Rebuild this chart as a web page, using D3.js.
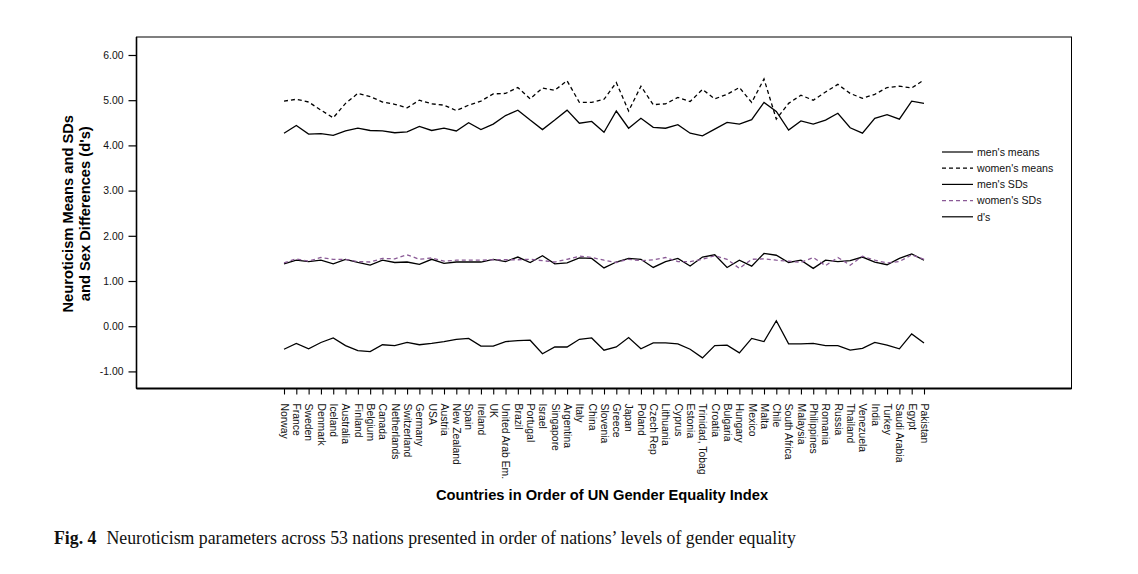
<!DOCTYPE html>
<html>
<head>
<meta charset="utf-8">
<script src="https://cdn.jsdelivr.net/npm/d3@7"></script>
<style>
  body { margin: 0; background: #fff; }
  svg { display: block; }
</style>
</head>
<body>
<svg id="chart" width="1138" height="574"></svg>
<script>
// --- DATA --------------------------------------------------------------------
const countries = ['Norway','France','Sweden','Denmark','Iceland','Australia','Finland','Belgium',
  'Canada','Netherlands','Switzerland','Germany','USA','Austria','New Zealand','Spain','Ireland','UK',
  'United Arab Em.','Brazil','Portugal','Israel','Singapore','Argentina','Italy','China','Slovenia',
  'Greece','Japan','Poland','Czech Rep','Lithuania','Cyprus','Estonia','Trinidad, Tobag','Croatia',
  'Bulgaria','Hungary','Mexico','Malta','Chile','South Africa','Malaysia','Philippines','Romania',
  'Russia','Thailand','Venezuela','India','Turkey','Saudi Arabia','Egypt','Pakistan'];

const mensMeans = [4.27,4.44,4.25,4.26,4.22,4.32,4.38,4.33,4.32,4.28,4.30,4.42,4.33,4.38,4.32,4.50,
  4.35,4.47,4.66,4.78,4.56,4.35,4.56,4.78,4.49,4.53,4.29,4.76,4.38,4.60,4.40,4.38,4.46,4.27,4.21,
  4.36,4.51,4.47,4.57,4.95,4.75,4.34,4.54,4.47,4.56,4.71,4.39,4.27,4.60,4.68,4.58,4.98,4.93];

const womensMeans = [4.98,5.02,4.96,4.78,4.61,4.93,5.15,5.08,4.96,4.91,4.83,5.00,4.92,4.89,4.77,4.89,
  4.98,5.14,5.15,5.28,5.03,5.27,5.22,5.43,4.95,4.95,5.02,5.39,4.76,5.31,4.90,4.92,5.06,4.97,5.24,
  5.03,5.13,5.28,4.95,5.47,4.58,4.93,5.11,5.00,5.18,5.35,5.15,5.04,5.13,5.28,5.31,5.27,5.45];

const mensSDs = [1.38,1.46,1.43,1.46,1.38,1.48,1.41,1.35,1.46,1.41,1.42,1.37,1.48,1.39,1.42,1.42,
  1.42,1.48,1.43,1.53,1.41,1.56,1.38,1.40,1.51,1.50,1.29,1.42,1.50,1.48,1.30,1.43,1.50,1.33,1.53,
  1.58,1.30,1.46,1.33,1.61,1.57,1.41,1.46,1.28,1.46,1.43,1.45,1.53,1.42,1.36,1.50,1.60,1.46];

const womensSDs = [1.40,1.49,1.44,1.52,1.48,1.48,1.43,1.42,1.50,1.49,1.58,1.48,1.51,1.44,1.46,1.46,
  1.46,1.47,1.47,1.47,1.48,1.45,1.42,1.48,1.55,1.52,1.46,1.41,1.48,1.45,1.47,1.52,1.43,1.43,1.48,
  1.56,1.48,1.28,1.48,1.49,1.46,1.44,1.41,1.52,1.34,1.52,1.35,1.55,1.46,1.40,1.43,1.58,1.48];

const dValues = [-0.51,-0.38,-0.50,-0.36,-0.26,-0.43,-0.54,-0.56,-0.41,-0.43,-0.36,-0.41,-0.38,-0.34,
  -0.29,-0.27,-0.44,-0.44,-0.34,-0.32,-0.31,-0.61,-0.46,-0.46,-0.29,-0.26,-0.53,-0.46,-0.25,-0.50,
  -0.37,-0.37,-0.39,-0.51,-0.70,-0.43,-0.42,-0.59,-0.27,-0.34,0.12,-0.39,-0.39,-0.38,-0.43,-0.43,
  -0.53,-0.49,-0.36,-0.42,-0.50,-0.17,-0.37];

const yTicks = [-1, 0, 1, 2, 3, 4, 5, 6];

const seriesNames = ["men's means", "women's means", "men's SDs", "women's SDs", "d's"];

// --- CONSTANTS ---------------------------------------------------------------
const LEFT = 136.5, RIGHT = 1071.5, TOP = 37, BOTTOM = 388.5;
const X_FIRST = 284, X_LAST = 924;
const Y_MIN = -1.378, Y_MAX = 6.398;
const FONT = 'Arial, "Liberation Sans", Helvetica, sans-serif';
const SERIF = '"Times New Roman", "Liberation Serif", serif';
const PURPLE = '#8a5a96';

const STYLE = [
  { values: mensMeans,   color: '#000', dash: null },
  { values: womensMeans, color: '#000', dash: '4,3' },
  { values: mensSDs,     color: '#000', dash: null },
  { values: womensSDs,   color: PURPLE, dash: '4,3' },
  { values: dValues,     color: '#000', dash: null },
];

// --- SCALES ------------------------------------------------------------------
const svg = d3.select('#chart');
const x = d3.scalePoint().domain(countries).range([X_FIRST, X_LAST]);
const y = d3.scaleLinear().domain([Y_MIN, Y_MAX]).range([BOTTOM, TOP]);

// frame
svg.append('rect')
  .attr('x', LEFT).attr('y', TOP)
  .attr('width', RIGHT - LEFT).attr('height', BOTTOM - TOP)
  .attr('fill', 'none').attr('stroke', '#000').attr('stroke-width', 1);

// ── Y axis ──────────────────────────────────────────────────────────────────
const yAxis = svg.append('g')
  .attr('transform', `translate(${LEFT},0)`)
  .call(d3.axisLeft(y).tickValues(yTicks).tickSize(8).tickPadding(5)
    .tickFormat(d => d.toFixed(2)));
yAxis.select('.domain').attr('stroke-width', 1.6).attr('d', `M0,${TOP}V${BOTTOM}`);
yAxis.selectAll('.tick line').attr('stroke-width', 1.2);
yAxis.selectAll('text').attr('font-family', FONT).attr('font-size', '10.4px').attr('fill', '#111');

// ── X axis ──────────────────────────────────────────────────────────────────
const xAxis = svg.append('g')
  .attr('transform', `translate(0,${BOTTOM})`)
  .call(d3.axisBottom(x).tickSize(6).tickSizeOuter(0));
xAxis.select('.domain').attr('stroke-width', 1.8).attr('d', `M${LEFT},0H${RIGHT}`);
xAxis.selectAll('.tick line').attr('stroke-width', 1.1);
xAxis.selectAll('text')
  .attr('font-family', FONT).attr('font-size', '10.4px').attr('fill', '#111')
  .attr('text-anchor', 'start')
  .attr('transform', 'rotate(90)')
  .attr('x', 15).attr('y', 0).attr('dy', '0.35em');

// ── Lines ───────────────────────────────────────────────────────────────────
const line = d3.line().x((d, i) => x(countries[i])).y(d => y(d));

svg.append('g').selectAll('path')
  .data(STYLE)
  .join('path')
  .attr('d', s => line(s.values))
  .attr('fill', 'none')
  .attr('stroke', s => s.color)
  .attr('stroke-width', 1.3)
  .attr('stroke-dasharray', s => s.dash);

// ── Legend ──────────────────────────────────────────────────────────────────
const LEG_X = 942, LEG_Y = 152, LEG_STEP = 16.2;
const leg = svg.append('g').selectAll('g')
  .data(STYLE.map((s, i) => ({ ...s, name: seriesNames[i] })))
  .join('g')
  .attr('transform', (d, i) => `translate(${LEG_X},${LEG_Y + i * LEG_STEP})`);
leg.append('line')
  .attr('x1', 0).attr('x2', 31).attr('y1', 0).attr('y2', 0)
  .attr('stroke', d => d.color).attr('stroke-width', 1.2)
  .attr('stroke-dasharray', d => d.dash);
leg.append('text')
  .attr('x', 35).attr('dy', '0.35em')
  .attr('font-family', FONT).attr('font-size', '10.6px').attr('fill', '#111')
  .text(d => d.name);

// ── Axis titles ─────────────────────────────────────────────────────────────
svg.append('text')
  .attr('x', (X_FIRST + X_LAST) / 2 - 2).attr('y', 500)
  .attr('text-anchor', 'middle')
  .attr('font-family', FONT).attr('font-weight', 'bold').attr('font-size', '14.7px')
  .text('Countries in Order of UN Gender Equality Index');

const yTitle = svg.append('text')
  .attr('transform', `translate(73,${(TOP + BOTTOM) / 2 + 1}) rotate(-90)`)
  .attr('text-anchor', 'middle')
  .attr('font-family', FONT).attr('font-weight', 'bold').attr('font-size', '14.7px');
yTitle.append('tspan').attr('x', 0).attr('y', 0).text('Neuroticism Means and SDs');
yTitle.append('tspan').attr('x', 0).attr('y', 17).text("and Sex Differences (d's)");

// ── Caption ─────────────────────────────────────────────────────────────────
const cap = svg.append('text')
  .attr('x', 54).attr('y', 544)
  .attr('font-family', SERIF).attr('font-size', '17.8px').attr('fill', '#111');
cap.append('tspan').attr('font-weight', 'bold').text('Fig. 4');
cap.append('tspan').attr('dx', 10)
  .text('Neuroticism parameters across 53 nations presented in order of nations\u2019 levels of gender equality');
</script>
</body>
</html>
